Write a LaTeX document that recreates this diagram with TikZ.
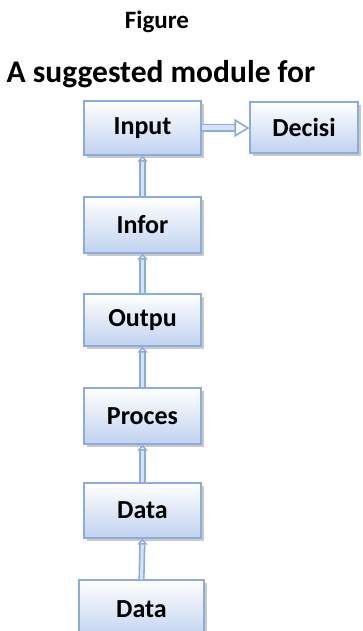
\documentclass[tikz,border=0pt]{standalone}
\usepackage{fontspec}
\setmainfont{Carlito}
\usetikzlibrary{shadows,arrows.meta}

\definecolor{boxedge}{RGB}{141,172,222}
\definecolor{boxbot}{RGB}{192,210,239}
\definecolor{arrowedge}{RGB}{141,172,222}
\definecolor{arrowfill}{RGB}{214,226,246}

\tikzset{
  modbox/.style={draw=boxedge, line width=1.2pt, top color=white, bottom color=boxbot,
    inner sep=0pt, font=\bfseries\fontsize{26}{30}\selectfont, text=black,
    drop shadow={shadow xshift=3pt, shadow yshift=-3pt, opacity=0.35, fill=black!60}},
  uplink/.style={draw=arrowedge, line width=1.6pt, double=arrowfill, double distance=3pt,
    -{Triangle[open,length=6pt,width=10pt]}},
  sidelink/.style={draw=arrowedge, line width=1.6pt, double=arrowfill, double distance=5pt,
    -{Triangle[open,length=15pt,width=18pt]}},
}

\begin{document}
\begin{tikzpicture}[x=1pt,y=-1pt]
  \clip (0,0) rectangle (363,631);
  \fill[white] (0,0) rectangle (363,631);

  % headings
  \node[anchor=base, font=\bfseries\fontsize{25}{30}\selectfont] (fig) at (157,29) {Figure};
  \node[anchor=base, font=\bfseries\fontsize{31.5}{36}\selectfont] (ttl) at (161,83) {A suggested module for};

  % module boxes
  \node[modbox, minimum width=117pt, minimum height=54pt] (inp) at (142.5,128) {Input};
  \node[modbox, minimum width=108pt, minimum height=51pt] (dec) at (304,127.5) {Decisi};
  \node[modbox, minimum width=117pt, minimum height=56pt] (inf) at (142.5,225) {Infor};
  \node[modbox, minimum width=117pt, minimum height=52pt] (out) at (142.5,320) {Outpu};
  \node[modbox, minimum width=117pt, minimum height=56pt] (pro) at (142.5,416) {Proces};
  \node[modbox, minimum width=117pt, minimum height=55pt] (da1) at (142.5,510.5) {Data};
  \node[modbox, minimum width=125pt, minimum height=58pt] (da2) at (141.5,609) {Data};

  % connectors
  \draw[sidelink] (inp.east) -- (inp.east -| dec.west);
  \draw[uplink] (inf.north) -- (inp.south);
  \draw[uplink] (out.north) -- (inf.south);
  \draw[uplink] (pro.north) -- (out.south);
  \draw[uplink] (da1.north) -- (pro.south);
  \draw[uplink] (da2.north) -- (da1.south);
\end{tikzpicture}
\end{document}
